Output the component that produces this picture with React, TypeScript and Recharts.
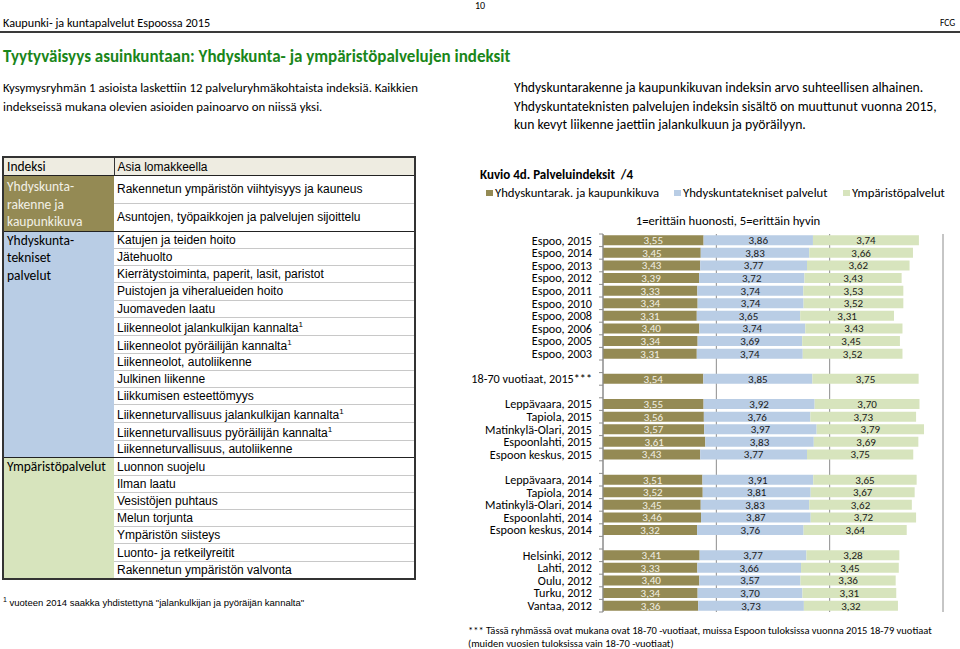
import { BarChart, Bar, XAxis, YAxis, CartesianGrid, LabelList } from "recharts"

// rows of the chart, top to bottom ("" = empty spacer row)
const categories = [
  "Espoo, 2015", "Espoo, 2014", "Espoo, 2013", "Espoo, 2012", "Espoo, 2011",
  "Espoo, 2010", "Espoo, 2008", "Espoo, 2006", "Espoo, 2005", "Espoo, 2003",
  "",
  "18-70 vuotiaat, 2015***",
  "",
  "Leppävaara, 2015", "Tapiola, 2015", "Matinkylä-Olari, 2015", "Espoonlahti, 2015", "Espoon keskus, 2015",
  "",
  "Leppävaara, 2014", "Tapiola, 2014", "Matinkylä-Olari, 2014", "Espoonlahti, 2014", "Espoon keskus, 2014",
  "",
  "Helsinki, 2012", "Lahti, 2012", "Oulu, 2012", "Turku, 2012", "Vantaa, 2012",
]

const kaupunkikuva = [
  3.55, 3.45, 3.43, 3.39, 3.33, 3.34, 3.31, 3.40, 3.34, 3.31,
  null,
  3.54,
  null,
  3.55, 3.56, 3.57, 3.61, 3.43,
  null,
  3.51, 3.52, 3.45, 3.46, 3.32,
  null,
  3.41, 3.33, 3.40, 3.34, 3.36,
]

const tekniset = [
  3.86, 3.83, 3.77, 3.72, 3.74, 3.74, 3.65, 3.74, 3.69, 3.74,
  null,
  3.85,
  null,
  3.92, 3.76, 3.97, 3.83, 3.77,
  null,
  3.91, 3.81, 3.83, 3.87, 3.76,
  null,
  3.77, 3.66, 3.57, 3.70, 3.73,
]

const ymparisto = [
  3.74, 3.66, 3.62, 3.43, 3.53, 3.52, 3.31, 3.43, 3.45, 3.52,
  null,
  3.75,
  null,
  3.70, 3.73, 3.79, 3.69, 3.75,
  null,
  3.65, 3.67, 3.62, 3.72, 3.64,
  null,
  3.28, 3.45, 3.36, 3.31, 3.32,
]

const seriesNames = ["Yhdyskuntarak. ja kaupunkikuva", "Yhdyskuntatekniset palvelut", "Ympäristöpalvelut"]
const axisTicks = [0, 4, 8, 12]

// left-hand table
const rakenneItems = [
  "Rakennetun ympäristön viihtyisyys ja kauneus",
  "Asuntojen, työpaikkojen ja palvelujen sijoittelu",
]
const teknisetItems = [
  "Katujen ja teiden hoito", "Jätehuolto", "Kierrätystoiminta, paperit, lasit, paristot",
  "Puistojen ja viheralueiden hoito", "Juomaveden laatu", "Liikenneolot jalankulkijan kannalta¹",
  "Liikenneolot pyöräilijän kannalta¹", "Liikenneolot, autoliikenne", "Julkinen liikenne",
  "Liikkumisen esteettömyys", "Liikenneturvallisuus jalankulkijan kannalta¹",
  "Liikenneturvallisuus pyöräilijän kannalta¹", "Liikenneturvallisuus, autoliikenne",
]
const ymparistoItems = [
  "Luonnon suojelu", "Ilman laatu", "Vesistöjen puhtaus", "Melun torjunta",
  "Ympäristön siisteys", "Luonto- ja retkeilyreitit", "Rakennetun ympäristön valvonta",
]

const OLIVE = "#948A54"
const BLUE = "#B9CDE5"
const GREEN = "#D7E4BD"
const CAL = "Carlito, Calibri, Lato, sans-serif"
const ARIAL = "'Liberation Sans', Arial, sans-serif"

const data = categories.map((name, i) => ({
  id: i,
  name,
  a: kaupunkikuva[i],
  b: tekniset[i],
  c: ymparisto[i],
}))

const fmt = (v: any) => (v == null ? "" : Number(v).toFixed(2).replace(".", ","))

function sup(text: string) {
  if (!text.endsWith("¹")) return text
  return (
    <>
      {text.slice(0, -1)}
      <sup style={{ fontSize: 8 }}>1</sup>
    </>
  )
}

function IndexTable() {
  const itemCell = (last: boolean, h: number): React.CSSProperties => ({
    height: h,
    padding: "0 0 0 3px",
    borderBottom: last ? "none" : "1px solid #c8c8c8",
    fontFamily: ARIAL,
    fontSize: 12,
    lineHeight: "14px",
    verticalAlign: "middle",
    whiteSpace: "nowrap",
  })
  const groupCell = (bg: string, color: string): React.CSSProperties => ({
    background: bg,
    color,
    verticalAlign: "top",
    fontFamily: CAL,
    fontSize: 13.5,
    lineHeight: "17.6px",
    padding: "0 0 0 3px",
  })
  const groupTop = "1.5px solid #222"
  return (
    <table
      style={{
        position: "absolute",
        left: 2,
        top: 156,
        width: 412,
        borderCollapse: "collapse",
        border: "2px solid #333",
        tableLayout: "fixed",
      }}
    >
      <colgroup>
        <col style={{ width: 111 }} />
        <col style={{ width: 301 }} />
      </colgroup>
      <tbody>
        <tr style={{ background: "#EEECE1" }}>
          <td style={{ height: 16, padding: "0 0 0 3px", fontFamily: CAL, fontSize: 13.5, borderRight: "1px solid #333", borderBottom: groupTop }}>Indeksi</td>
          <td style={{ height: 16, padding: "0 0 0 3px", fontFamily: ARIAL, fontSize: 12, borderBottom: groupTop }}>Asia lomakkeella</td>
        </tr>
        {rakenneItems.map((t, i) => (
          <tr key={"r" + i}>
            {i === 0 && (
              <td rowSpan={rakenneItems.length} style={{ ...groupCell(OLIVE, "#F2F0E6"), paddingTop: 2 }}>
                Yhdyskunta-<br />rakenne ja<br />kaupunkikuva
              </td>
            )}
            <td style={itemCell(i === rakenneItems.length - 1, 26)}>{t}</td>
          </tr>
        ))}
        {teknisetItems.map((t, i) => (
          <tr key={"t" + i} style={i === 0 ? { borderTop: groupTop } : undefined}>
            {i === 0 && (
              <td rowSpan={teknisetItems.length} style={groupCell(BLUE, "#000")}>
                Yhdyskunta-<br />tekniset<br />palvelut
              </td>
            )}
            <td style={itemCell(i === teknisetItems.length - 1, 16.2)}>{sup(t)}</td>
          </tr>
        ))}
        {ymparistoItems.map((t, i) => (
          <tr key={"y" + i} style={i === 0 ? { borderTop: groupTop } : undefined}>
            {i === 0 && (
              <td rowSpan={ymparistoItems.length} style={groupCell(GREEN, "#000")}>
                Ympäristöpalvelut
              </td>
            )}
            <td style={itemCell(i === ymparistoItems.length - 1, 16.2)}>{t}</td>
          </tr>
        ))}
      </tbody>
    </table>
  )
}

// category label without wrapping, plus an Excel-style tick mark on the band boundary
function CategoryTick(props: any) {
  const { x, y, payload, index } = props
  const half = payload?.offset ?? 0
  const axisX = x + 11
  const last = index === categories.length - 1
  return (
    <g>
      <line x1={axisX - 4} x2={axisX} y1={y - half} y2={y - half} stroke="#8c8c8c" />
      {last && <line x1={axisX - 4} x2={axisX} y1={y + half} y2={y + half} stroke="#8c8c8c" />}
      <text x={x} y={y} dy="0.35em" textAnchor="end" fontSize={12.2} fontFamily={CAL} fill="#000">
        {categories[payload.value]}
      </text>
    </g>
  )
}

function ServiceChart() {
  return (
    <BarChart
      width={490}
      height={392}
      data={data}
      layout="vertical"
      barCategoryGap="10%"
      margin={{ top: 9, right: 7, bottom: 5, left: 0 }}
    >
      <CartesianGrid horizontal={false} stroke="#8c8c8c" />
      <XAxis type="number" domain={[0, 12]} ticks={axisTicks} hide />
      <YAxis
        type="category"
        dataKey="id"
        width={143}
        interval={0}
        tickLine={false}
        tickMargin={5}
        axisLine={{ stroke: "#8c8c8c" }}
        tick={<CategoryTick />}
      />
      <Bar dataKey="a" name={seriesNames[0]} stackId="s" fill={OLIVE} isAnimationActive={false}>
        <LabelList dataKey="a" position="center" formatter={fmt} style={{ fontSize: 11, fill: "#F2F0E6", fontFamily: CAL }} />
      </Bar>
      <Bar dataKey="b" name={seriesNames[1]} stackId="s" fill={BLUE} isAnimationActive={false}>
        <LabelList dataKey="b" position="center" formatter={fmt} style={{ fontSize: 11, fill: "#1a1a1a", fontFamily: CAL }} />
      </Bar>
      <Bar dataKey="c" name={seriesNames[2]} stackId="s" fill={GREEN} isAnimationActive={false}>
        <LabelList dataKey="c" position="center" formatter={fmt} style={{ fontSize: 11, fill: "#1a1a1a", fontFamily: CAL }} />
      </Bar>
    </BarChart>
  )
}

const legendX = [486, 674, 843]
const legendColors = [OLIVE, BLUE, GREEN]

export default function App() {
  const abs = (left: number, top: number, extra: React.CSSProperties = {}): React.CSSProperties => ({
    position: "absolute",
    left,
    top,
    whiteSpace: "nowrap",
    ...extra,
  })
  return (
    <div style={{ position: "absolute", left: 0, top: 0, width: 960, height: 649, background: "#fff", overflow: "hidden", fontFamily: CAL, color: "#000" }}>
      <div style={abs(0, 0, { width: 960, textAlign: "center", fontSize: 10, lineHeight: "11px" })}>10</div>
      <div style={abs(3, 15, { fontSize: 12.2, lineHeight: "16px" })}>Kaupunki- ja kuntapalvelut Espoossa 2015</div>
      <div style={abs(940, 17, { fontSize: 9.5, lineHeight: "12px" })}>FCG</div>
      <div style={abs(0, 31, { width: 960, height: 2, background: "#3a3a3a" })} />
      <div style={abs(3, 46, { fontSize: 17, fontWeight: 700, color: "#1A861A", lineHeight: "22px" })}>
        Tyytyväisyys asuinkuntaan: Yhdyskunta- ja ympäristöpalvelujen indeksit
      </div>
      <div style={abs(3, 79, { fontSize: 12.8, lineHeight: "18.5px" })}>
        Kysymysryhmän 1 asioista laskettiin 12 palveluryhmäkohtaista indeksiä. Kaikkien<br />
        indekseissä mukana olevien asioiden painoarvo on niissä yksi.
      </div>
      <div style={abs(514, 79, { fontSize: 13.7, lineHeight: "18.5px" })}>
        Yhdyskuntarakenne ja kaupunkikuvan indeksin arvo suhteellisen alhainen.<br />
        Yhdyskuntateknisten palvelujen indeksin sisältö on muuttunut vuonna 2015,<br />
        kun kevyt liikenne jaettiin jalankulkuun ja pyöräilyyn.
      </div>

      <IndexTable />
      <div style={abs(3, 593, { fontFamily: ARIAL, fontSize: 9.5, lineHeight: "13px" })}>
        <sup style={{ fontSize: 7 }}>1</sup> vuoteen 2014 saakka yhdistettynä "jalankulkijan ja pyöräijän kannalta"
      </div>

      <div style={abs(480, 167, { fontSize: 13, fontWeight: 700, lineHeight: "16px" })}>Kuvio 4d. Palveluindeksit&nbsp; /4</div>
      {seriesNames.map((n, i) => (
        <div key={n} style={abs(legendX[i], 185, { fontSize: 12.7, lineHeight: "16px", display: "flex", alignItems: "center" })}>
          <span style={{ display: "inline-block", width: 7, height: 6, background: legendColors[i], marginRight: 2 }} />
          {n}
        </div>
      ))}
      <div style={abs(628, 213, { width: 200, textAlign: "center", fontSize: 12.7, lineHeight: "16px" })}>
        1=erittäin huonosti, 5=erittäin hyvin
      </div>
      <div style={{ position: "absolute", left: 460, top: 225 }}>
        <ServiceChart />
      </div>
      <div style={abs(468, 624, { fontSize: 10.5, lineHeight: "13px" })}>
        *** Tässä ryhmässä ovat mukana ovat 18-70 -vuotiaat, muissa Espoon tuloksissa vuonna 2015 18-79 vuotiaat<br />
        (muiden vuosien tuloksissa vain 18-70 -vuotiaat)
      </div>
    </div>
  )
}
